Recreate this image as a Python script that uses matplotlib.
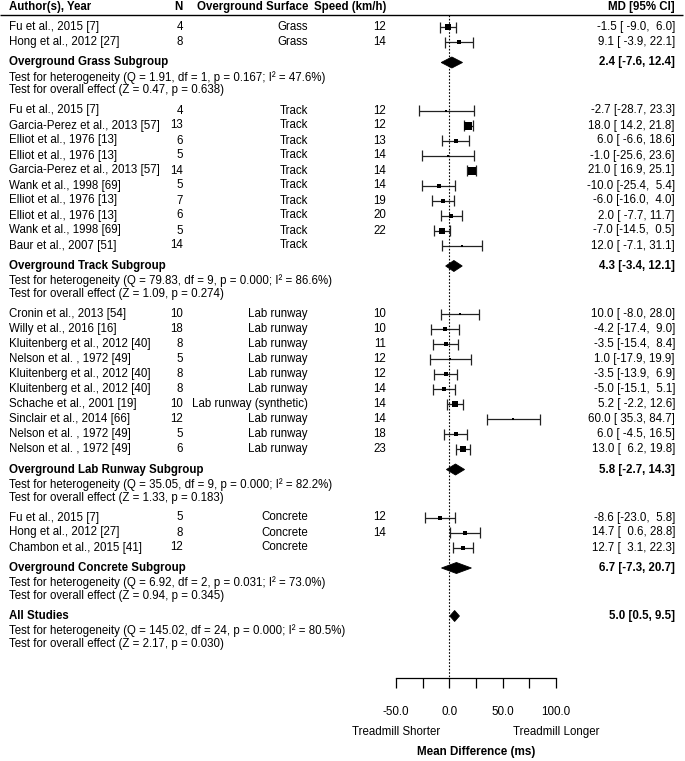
# ============================================================
# Section 1. Setup and Imports
# ============================================================

import matplotlib

matplotlib.use("Agg")

import matplotlib.pyplot as plt
import matplotlib.transforms as mtransforms
import numpy as np
from matplotlib.patches import Polygon

plt.rcParams["font.family"] = ["Liberation Sans Narrow", "Liberation Sans", "DejaVu Sans"]

# ============================================================
# Section 2. Data
# ============================================================

authors = [
    "Fu et al., 2015 [7]", "Hong et al., 2012 [27]",
    "Fu et al., 2015 [7]", "Garcia-Perez et al., 2013 [57]", "Elliot et al., 1976 [13]",
    "Elliot et al., 1976 [13]", "Garcia-Perez et al., 2013 [57]", "Wank et al., 1998 [69]",
    "Elliot et al., 1976 [13]", "Elliot et al., 1976 [13]", "Wank et al., 1998 [69]",
    "Baur et al., 2007 [51]",
    "Cronin et al., 2013 [54]", "Willy et al., 2016 [16]", "Kluitenberg et al., 2012 [40]",
    "Nelson et al. , 1972 [49]", "Kluitenberg et al., 2012 [40]", "Kluitenberg et al., 2012 [40]",
    "Schache et al., 2001 [19]", "Sinclair et al., 2014 [66]", "Nelson et al. , 1972 [49]",
    "Nelson et al. , 1972 [49]",
    "Fu et al., 2015 [7]", "Hong et al., 2012 [27]", "Chambon et al., 2015 [41]",
]
n_subjects = [4, 8, 4, 13, 6, 5, 14, 5, 7, 6, 5, 14, 10, 18, 8, 5, 8, 8, 10, 12, 5, 6, 5, 8, 12]
surfaces = (
    ["Grass"] * 2
    + ["Track"] * 10
    + ["Lab runway"] * 6 + ["Lab runway (synthetic)"] + ["Lab runway"] * 3
    + ["Concrete"] * 3
)
speeds = [12, 14, 12, 12, 13, 14, 14, 14, 19, 20, 22, None,
          10, 10, 11, 12, 12, 14, 14, 14, 18, 23, 12, 14, None]
md = [-1.5, 9.1, -2.7, 18.0, 6.0, -1.0, 21.0, -10.0, -6.0, 2.0, -7.0, 12.0,
      10.0, -4.2, -3.5, 1.0, -3.5, -5.0, 5.2, 60.0, 6.0, 13.0, -8.6, 14.7, 12.7]
ci_low = [-9.0, -3.9, -28.7, 14.2, -6.6, -25.6, 16.9, -25.4, -16.0, -7.7, -14.5, -7.1,
          -8.0, -17.4, -15.4, -17.9, -13.9, -15.1, -2.2, 35.3, -4.5, 6.2, -23.0, 0.6, 3.1]
ci_high = [6.0, 22.1, 23.3, 21.8, 18.6, 23.6, 25.1, 5.4, 4.0, 11.7, 0.5, 31.1,
           28.0, 9.0, 8.4, 19.9, 6.9, 5.1, 12.6, 84.7, 16.5, 19.8, 5.8, 28.8, 22.3]
group_sizes = [2, 10, 10, 3]

# Subgroup and overall summaries
summary_names = ["Overground Grass Subgroup", "Overground Track Subgroup",
                 "Overground Lab Runway Subgroup", "Overground Concrete Subgroup",
                 "All Studies"]
summary_md = [2.4, 4.3, 5.8, 6.7, 5.0]
summary_low = [-7.6, -3.4, -2.7, -7.3, 0.5]
summary_high = [12.4, 12.1, 14.3, 20.7, 9.5]
het_q = ["1.91", "79.83", "35.05", "6.92", "145.02"]
het_df = [1, 9, 9, 2, 24]
het_p = ["0.167", "0.000", "0.000", "0.031", "0.000"]
het_i2 = ["47.6", "86.6", "82.2", "73.0", "80.5"]
effect_z = ["0.47", "1.09", "1.33", "0.94", "2.17"]
effect_p = ["0.638", "0.274", "0.183", "0.345", "0.030"]

axis_ticks = [-50, -25, 0, 25, 50, 75, 100]
axis_labels = ["-50.0", "", "0.0", "", "50.0", "", "100.0"]

# ============================================================
# Section 3. Figure and layout helpers
# ============================================================

W, H = 685, 761
fig = plt.figure(figsize=(W / 100, H / 100), dpi=100)
ax = fig.add_axes([0, 0, 1, 1])

# x: data units (ms), 0 sits at pixel 449.3 and 150 ms span 160 px
X0_PX, PX_PER_UNIT = 449.3, 160 / 150
ax.set_xlim(-X0_PX / PX_PER_UNIT, (W - X0_PX) / PX_PER_UNIT)
# y: one unit per pixel, counted from the top
ax.set_ylim(H, 0)

# Text columns are placed by figure pixel (x) and row position (y)
col = mtransforms.blended_transform_factory(fig.transFigure, ax.transData)
FS = 8.3
LEFT = 9
N_RIGHT, SURF_RIGHT, SPEED_RIGHT, MD_RIGHT = 183, 308, 386, 675


def put(x_px, y, s, ha="left", bold=False):
    ax.text(x_px / W, y, s, transform=col, ha=ha, va="center", fontsize=FS,
            fontweight="bold" if bold else "normal")


def fmt_ci(m, lo, hi):
    return f"{m:.1f} [{lo:5.1f}, {hi:4.1f}]"


def diamond(y, m, lo, hi, half_h=5.5):
    ax.add_patch(Polygon([(lo, y), (m, y - half_h), (hi, y), (m, y + half_h)],
                         closed=True, facecolor="black", edgecolor="black", lw=0.6))


# Square side follows study precision (1 / CI width), as metafor does
prec = 1 / (np.array(ci_high) - np.array(ci_low))
side_px = 2.5 + 6.0 * (prec - prec.min()) / (prec.max() - prec.min())

# ============================================================
# Section 4. Header
# ============================================================

HEADER_Y = 7
put(LEFT, HEADER_Y, "Author(s), Year", bold=True)
put(N_RIGHT, HEADER_Y, "N", ha="right", bold=True)
put(SURF_RIGHT, HEADER_Y, "Overground Surface", ha="right", bold=True)
put(SPEED_RIGHT, HEADER_Y, "Speed (km/h)", ha="right", bold=True)
put(MD_RIGHT, HEADER_Y, "MD [95% CI]", ha="right", bold=True)
ax.hlines(15, -X0_PX / PX_PER_UNIT, (683 - X0_PX) / PX_PER_UNIT, color="black", lw=1.0)

# ============================================================
# Section 5. Study rows, subgroup summaries and test lines
# ============================================================

ROW = 15.0       # spacing between study rows
GAP_SUB = 20.5   # last study -> subgroup diamond
GAP_HET = 15.0   # diamond -> heterogeneity line
GAP_EFF = 13.0   # heterogeneity -> overall effect line
GAP_NEXT = 20.0  # overall effect line -> next block

y = 27.0
start = 0
blocks = group_sizes + [0]
for g, size in enumerate(blocks):
    for i in range(start, start + size):
        put(LEFT, y, authors[i])
        put(N_RIGHT, y, str(n_subjects[i]), ha="right")
        put(SURF_RIGHT, y, surfaces[i], ha="right")
        if speeds[i] is not None:
            put(SPEED_RIGHT, y, str(speeds[i]), ha="right")
        put(MD_RIGHT, y, fmt_ci(md[i], ci_low[i], ci_high[i]), ha="right")

        # CI whisker with end caps
        ax.hlines(y, ci_low[i], ci_high[i], color="#222222", lw=0.9)
        ax.vlines([ci_low[i], ci_high[i]], y - 5.5, y + 5.5, color="#222222", lw=0.9)
        s_pt = side_px[i] * 0.72
        ax.scatter(md[i], y, marker="s", s=s_pt ** 2, color="black", zorder=3,
                   linewidths=0)
        y += ROW
    start += size

    if size:
        y += GAP_SUB - ROW
    put(LEFT, y, summary_names[g], bold=True)
    put(MD_RIGHT, y, f"{summary_md[g]:.1f} [{summary_low[g]:.1f}, {summary_high[g]:.1f}]",
        ha="right", bold=True)
    diamond(y, summary_md[g], summary_low[g], summary_high[g])

    y += GAP_HET
    put(LEFT, y, f"Test for heterogeneity (Q = {het_q[g]}, df = {het_df[g]}, "
                 f"p = {het_p[g]}; I\u00b2 = {het_i2[g]}%)")
    y += GAP_EFF
    put(LEFT, y, f"Test for overall effect (Z = {effect_z[g]}, p = {effect_p[g]})")
    y += GAP_NEXT

# ============================================================
# Section 6. Reference line and x axis
# ============================================================

AXIS_Y = 678
ax.vlines(0, 15, AXIS_Y, color="black", lw=0.8, linestyles=(0, (1.5, 1.5)))

for name in ["top", "left", "right"]:
    ax.spines[name].set_visible(False)
ax.spines["bottom"].set_position(("data", AXIS_Y))
ax.spines["bottom"].set_bounds(axis_ticks[0], axis_ticks[-1])
ax.spines["bottom"].set_linewidth(0.9)
ax.set_xticks(axis_ticks)
ax.set_xticklabels(axis_labels, fontsize=8.4)
ax.tick_params(axis="x", direction="out", length=7.2, width=0.9, pad=13)
ax.set_yticks([])

put(440, 732, "Treadmill Shorter", ha="right")
put(513, 732, "Treadmill Longer")
ax.text(476.5 / W, 752, "Mean Difference (ms)", transform=col, ha="center",
        va="center", fontsize=8.4, fontweight="bold")

# ============================================================
# Section 7. Save
# ============================================================

fig.savefig("out.png", dpi=100)
plt.close(fig)
